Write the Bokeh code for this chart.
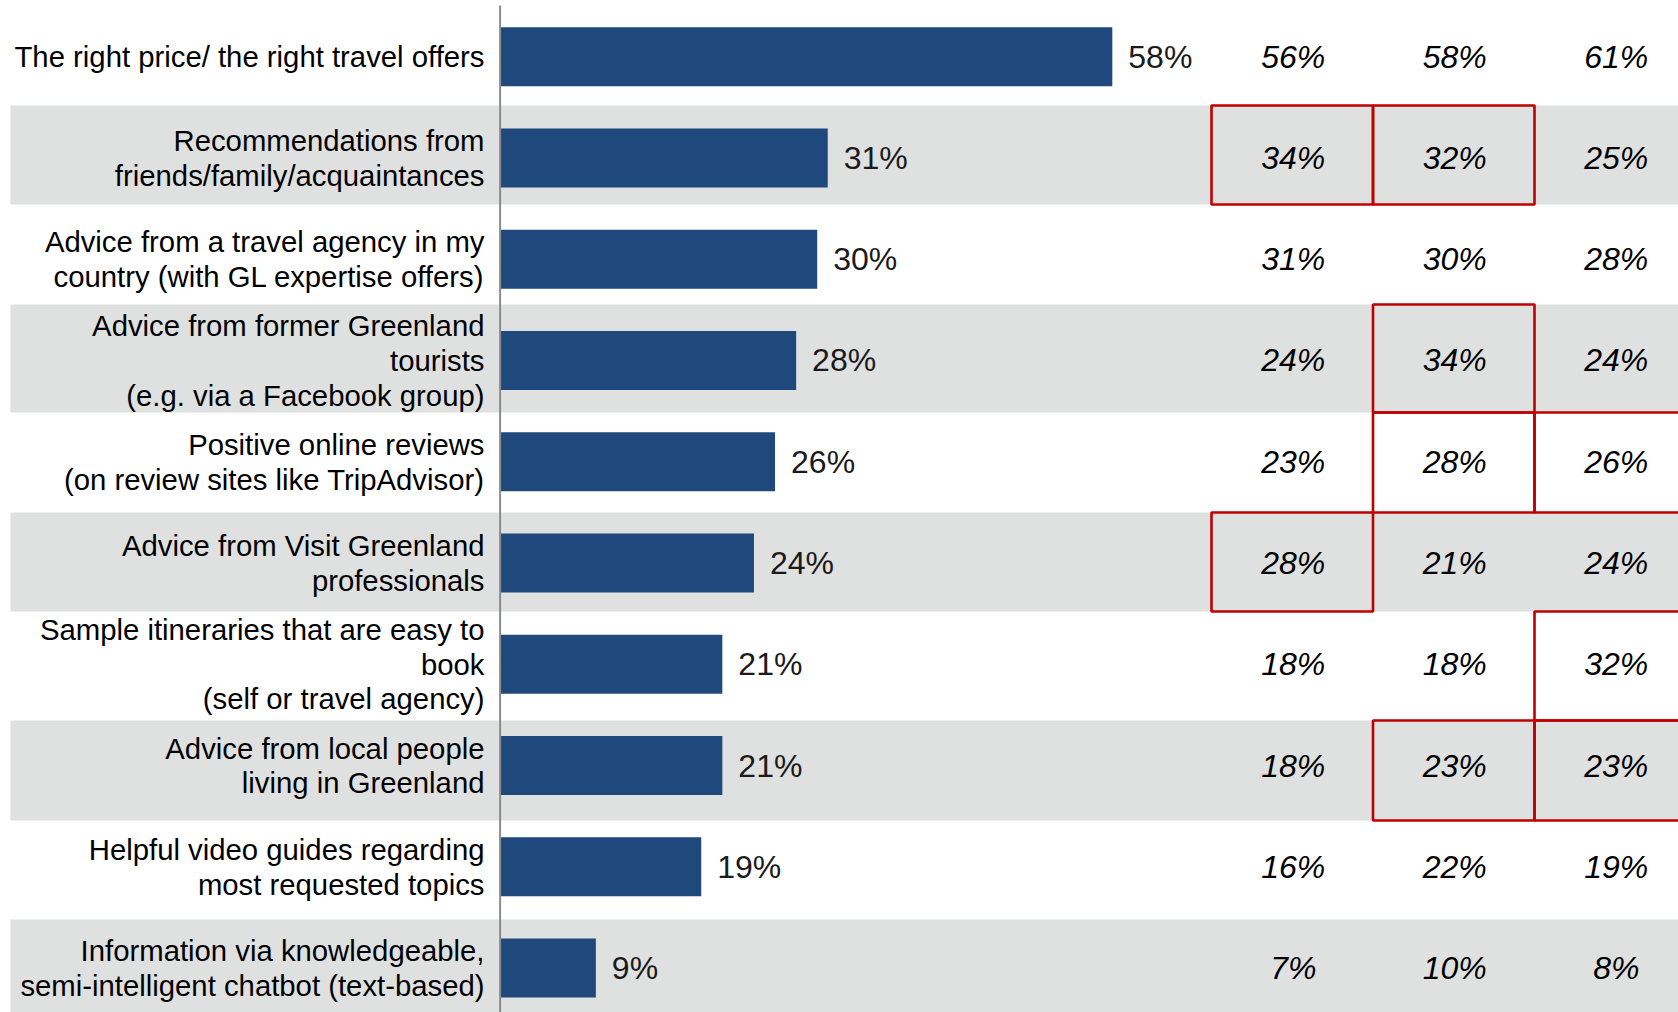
from bokeh.plotting import figure
from bokeh.models import Range1d, ColumnDataSource
from bokeh.core.properties import value
from bokeh.embed import file_html
from bokeh.resources import INLINE

# ---------------- data ----------------
categories = [
    "The right price/ the right travel offers",
    "Recommendations from\nfriends/family/acquaintances",
    "Advice from a travel agency in my\ncountry (with GL expertise offers)",
    "Advice from former Greenland\ntourists\n(e.g. via a Facebook group)",
    "Positive online reviews\n(on review sites like TripAdvisor)",
    "Advice from Visit Greenland\nprofessionals",
    "Sample itineraries that are easy to\nbook\n(self or travel agency)",
    "Advice from local people\nliving in Greenland",
    "Helpful video guides regarding\nmost requested topics",
    "Information via knowledgeable,\nsemi-intelligent chatbot (text-based)",
]
total = [58, 31, 30, 28, 26, 24, 21, 21, 19, 9]
group_1 = [56, 34, 31, 24, 23, 28, 18, 18, 16, 7]
group_2 = [58, 32, 30, 34, 28, 21, 18, 23, 22, 10]
group_3 = [61, 25, 28, 24, 26, 24, 32, 23, 19, 8]
highlight_1 = [0, 1, 0, 0, 0, 1, 0, 0, 0, 0]
highlight_2 = [0, 1, 0, 1, 1, 0, 0, 1, 0, 0]
highlight_3 = [0, 0, 0, 0, 1, 0, 1, 1, 0, 0]

# ---------------- layout ----------------
M = 0
W, H = 1678, 1012
X0, KX = 500.5, 10.54      # page x of 0 %, px per %
Y0, KY = 56.2, 101.26      # page y of first bar centre, px per row
row_edges_px = [5, 105, 204, 304, 412, 512, 611, 720, 820, 919, 1014]
col_edges_px = [1211, 1372.5, 1534, 1695.5]

def fx(px):
    return (px - X0) / KX

def fy(py):
    return (py - Y0) / KY

n = len(categories)
idx = list(range(n))

p = figure(width=W, height=H, output_backend="svg", toolbar_location=None,
           x_range=Range1d(fx(M), fx(M + W)), y_range=Range1d(fy(M + H), fy(M)),
           x_axis_location=None, y_axis_location=None, min_border=0)
p.min_border_left = p.min_border_right = p.min_border_top = p.min_border_bottom = 0
p.outline_line_color = None
p.xgrid.visible = False
p.ygrid.visible = False
p.background_fill_color = "white"

# alternating row bands
band_rows = [i for i in idx if i % 2 == 1]
p.quad(left=fx(10), right=fx(1690),
       top=[fy(row_edges_px[i]) for i in band_rows],
       bottom=[fy(row_edges_px[i + 1]) for i in band_rows],
       fill_color="#DFE0E0", line_color=None)

# bars
bar_src = ColumnDataSource(dict(y=idx, v=total, lab=[f"{v}%" for v in total]))
p.hbar(y="y", left=0, right="v", height=59 / KY, source=bar_src,
       fill_color="#1F497D", line_color=None)

# axis line
p.segment(x0=fx(499.6), x1=fx(499.6), y0=fy(5), y1=fy(1014),
          line_color="#8C8C8C", line_width=2)

# bar value labels
p.text(x="v", y="y", text="lab", source=bar_src, x_offset=16,
       text_align="left", text_baseline="middle",
       text_font=value("Liberation Sans"), text_font_size="32px",
       text_color="#1A1A1A")

# category labels
p.text(x=[fx(484)] * n, y=idx, text=categories,
       text_align="right", text_baseline="middle",
       text_font=value("Liberation Sans"), text_font_size="29.3px",
       text_line_height=1.05, text_color="#000000")

# table columns
groups = [group_1, group_2, group_3]
highlights = [highlight_1, highlight_2, highlight_3]
for c, (g, h) in enumerate(zip(groups, highlights)):
    cx = fx((col_edges_px[c] + col_edges_px[c + 1]) / 2 + 1)
    p.text(x=[cx] * n, y=idx, text=[f"{v}%" for v in g],
           text_align="center", text_baseline="middle",
           text_font=value("Liberation Sans"), text_font_style="italic",
           text_font_size="32px", text_color="#000000")
    hi = [i for i in idx if h[i]]
    if hi:
        p.quad(left=fx(col_edges_px[c]), right=fx(col_edges_px[c + 1]),
               top=[fy(row_edges_px[i]) for i in hi],
               bottom=[fy(row_edges_px[i + 1]) for i in hi],
               fill_color=None, line_color="#C00000", line_width=2.6)

open("out.html", "w").write(file_html(p, INLINE))
